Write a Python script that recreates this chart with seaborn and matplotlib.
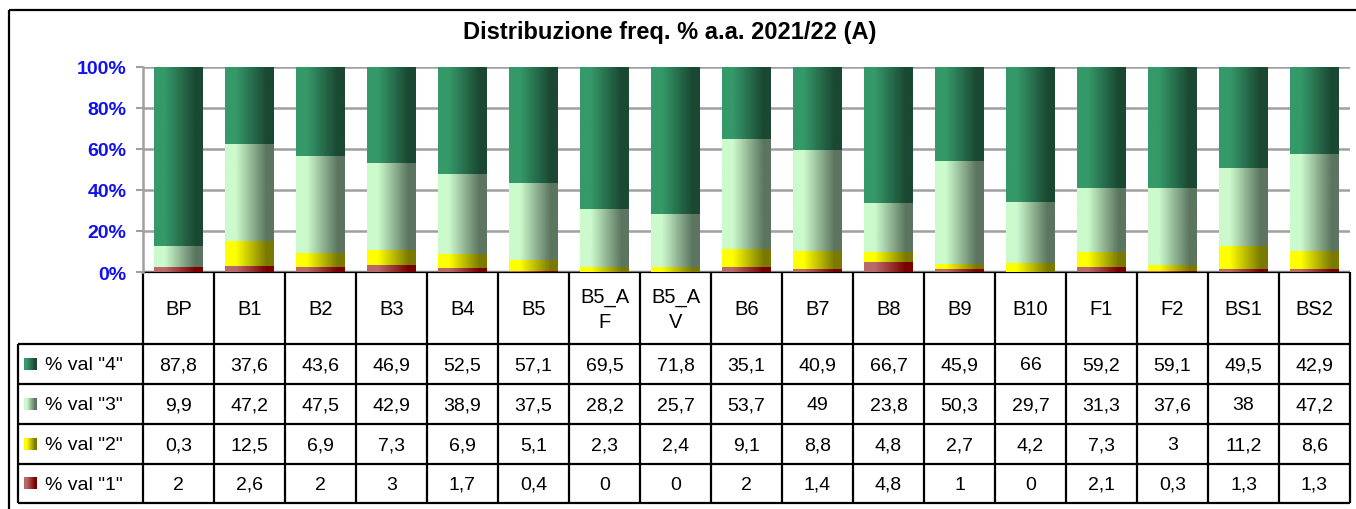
import textwrap
import numpy as np
import pandas as pd
import matplotlib
matplotlib.use("Agg")
import matplotlib.pyplot as plt
from matplotlib.colors import LinearSegmentedColormap
from matplotlib.patches import Rectangle
import seaborn as sns

# ---------------- data ----------------
categories = ["BP", "B1", "B2", "B3", "B4", "B5", "B5_AF", "B5_AV", "B6", "B7",
              "B8", "B9", "B10", "F1", "F2", "BS1", "BS2"]
val4 = [87.8, 37.6, 43.6, 46.9, 52.5, 57.1, 69.5, 71.8, 35.1, 40.9, 66.7, 45.9, 66, 59.2, 59.1, 49.5, 42.9]
val3 = [9.9, 47.2, 47.5, 42.9, 38.9, 37.5, 28.2, 25.7, 53.7, 49, 23.8, 50.3, 29.7, 31.3, 37.6, 38, 47.2]
val2 = [0.3, 12.5, 6.9, 7.3, 6.9, 5.1, 2.3, 2.4, 9.1, 8.8, 4.8, 2.7, 4.2, 7.3, 3, 11.2, 8.6]
val1 = [2, 2.6, 2, 3, 1.7, 0.4, 0, 0, 2, 1.4, 4.8, 1, 0, 2.1, 0.3, 1.3, 1.3]
series_names = ['% val "4"', '% val "3"', '% val "2"', '% val "1"']
title = "Distribuzione freq. % a.a. 2021/22 (A)"
yticks = [0, 20, 40, 60, 80, 100]

# ---------------- style ----------------
sns.set_theme(style="white")
plt.rcParams["font.family"] = ["Liberation Sans", "DejaVu Sans"]

def grad_cmap(light, dark):
    return LinearSegmentedColormap.from_list(
        "g", [(0.0, light), (0.22, light), (0.85, dark), (1.0, dark)])

cmaps = {
    "v4": grad_cmap("#35996a", "#1a4832"),
    "v3": grad_cmap("#ccfacc", "#5c7560"),
    "v2": grad_cmap("#ffff00", "#7a7a00"),
    "v1": grad_cmap("#b86a6a", "#7a0000"),
}

df = pd.DataFrame({"cat": categories, "v4": val4, "v3": val3, "v2": val2, "v1": val1})
tot = df[["v1", "v2", "v3", "v4"]].sum(axis=1)
df["c1"] = df["v1"] / tot * 100
df["c2"] = (df["v1"] + df["v2"]) / tot * 100
df["c3"] = (df["v1"] + df["v2"] + df["v3"]) / tot * 100
df["c4"] = (df["v1"] + df["v2"] + df["v3"] + df["v4"]) / tot * 100

W, H = 1356, 510
fig = plt.figure(figsize=(W / 100, H / 100), dpi=100)
fig.patch.set_facecolor("white")

X0, X1, YTOP, YBOT = 143, 1350, 68, 273

# overlay axes in pixel coordinates for frame and table
tab = fig.add_axes([0, 0, 1, 1], zorder=0)
tab.set_xlim(0, W)
tab.set_ylim(H, 0)
tab.axis("off")

ax = fig.add_axes([X0 / W, 1 - YBOT / H, (X1 - X0) / W, (YBOT - YTOP) / H], zorder=1)
ax.patch.set_alpha(0)

grad = np.linspace(0, 1, 256).reshape(1, -1)
layers = [("c4", "v4"), ("c3", "v3"), ("c2", "v2"), ("c1", "v1")]
for i, (col, key) in enumerate(layers):
    n_before = len(ax.patches)
    sns.barplot(data=df, x="cat", y=col, order=categories, color="gray",
                width=0.69, saturation=1, errorbar=None, ax=ax)
    for p in ax.patches[n_before:]:
        px, py, pw, ph = p.get_x(), p.get_y(), p.get_width(), p.get_height()
        p.set_visible(False)
        if ph <= 0:
            continue
        ax.imshow(grad, extent=[px, px + pw, py, py + ph], aspect="auto",
                  cmap=cmaps[key], interpolation="bilinear", zorder=3 + i)

ax.set_xlim(-0.5, len(categories) - 0.5)
ax.set_ylim(0, 100)
ax.set_xlabel("")
ax.set_ylabel("")
ax.set_xticks([])
ax.set_yticks(yticks)
ax.set_yticklabels([f"{t}%" for t in yticks], color="#1010f0",
                   fontweight="bold", fontsize=14)
ax.tick_params(axis="y", direction="out", length=5, width=1.5,
               color="#a0a0a0", pad=7, left=True)
ax.yaxis.grid(True, color="#a0a0a0", lw=1.8)
ax.xaxis.grid(False)
ax.set_axisbelow(True)
for s in ["top", "right", "bottom"]:
    ax.spines[s].set_visible(False)
ax.spines["left"].set_color("#a0a0a0")
ax.spines["left"].set_linewidth(1.8)

# ---------------- frame and title ----------------
tab.add_patch(Rectangle((9, 11), 1400, 600, fill=False, ec="black", lw=1.6))
tab.text(670, 33, title, ha="center", va="center", fontsize=17,
         fontweight="bold", color="black")

# ---------------- data table ----------------
n = len(categories)
cw = (X1 - X0) / n
rows_y = [273, 345, 385, 425, 465, 504]
LW = 1.6
tab.hlines(rows_y[0], X0, X1, color="black", lw=LW)
for y in rows_y[1:]:
    tab.hlines(y, 18, X1, color="black", lw=LW)
for i in range(n + 1):
    tab.vlines(X0 + i * cw, rows_y[0], rows_y[-1], color="black", lw=LW)
tab.vlines(18, rows_y[1], rows_y[-1], color="black", lw=LW)

for i, c in enumerate(categories):
    tab.text(X0 + (i + 0.5) * cw, (rows_y[0] + rows_y[1]) / 2 + 1,
             textwrap.fill(c, 4), ha="center", va="center", fontsize=14.5,
             linespacing=1.35, color="black")

def fmt(v):
    return f"{v:g}".replace(".", ",")

series_vals = [val4, val3, val2, val1]
keys = ["v4", "v3", "v2", "v1"]
for r, (name, vals, key) in enumerate(zip(series_names, series_vals, keys)):
    yc = (rows_y[r + 1] + rows_y[r + 2]) / 2
    tab.imshow(grad, extent=[24, 37, yc + 6, yc - 6], aspect="auto",
               cmap=cmaps[key], interpolation="bilinear", zorder=2)
    tab.text(45, yc + 1, name, ha="left", va="center", fontsize=14, color="black")
    for i, v in enumerate(vals):
        tab.text(X0 + (i + 0.5) * cw, yc + 1, fmt(v), ha="center", va="center",
                 fontsize=14, color="black")

tab.set_xlim(0, W)
tab.set_ylim(H, 0)

fig.savefig("out.png", dpi=100)
